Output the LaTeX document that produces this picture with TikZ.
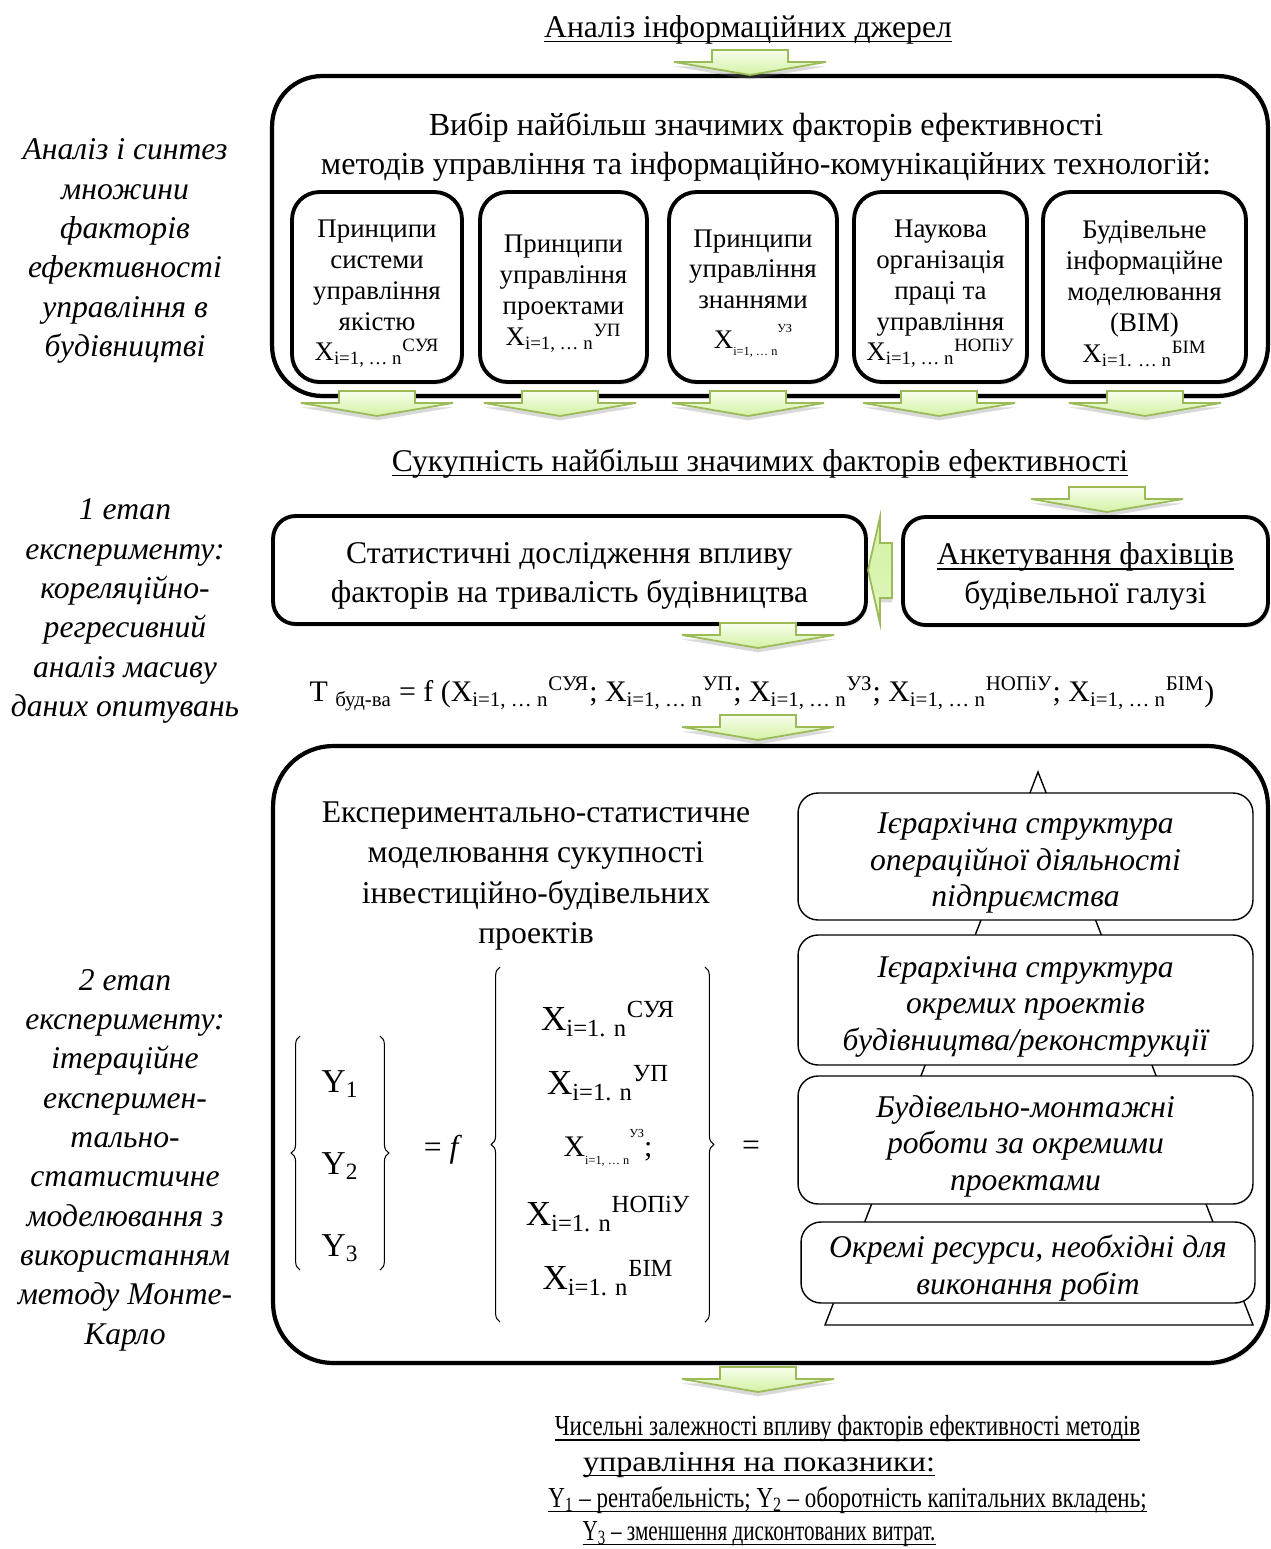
\documentclass[tikz,border=0pt]{standalone}
\usepackage{fontspec}
\setmainfont{Liberation Serif}
\usetikzlibrary{positioning, calc, decorations.pathreplacing, shadows}

\definecolor{arrline}{RGB}{155,187,89}
\definecolor{arrtop}{RGB}{247,253,235}
\definecolor{arrbot}{RGB}{212,242,165}

\newcommand{\bigsz}{\fontsize{18}{22.2}\selectfont}
\newcommand{\boxsz}{\fontsize{15.3}{17.6}\selectfont}
\newcommand{\levsz}{\fontsize{18}{20.8}\selectfont}
\newcommand{\notesz}{\fontsize{18}{22.4}\selectfont}
\newcommand{\ressz}{\fontsize{16.5}{20}\selectfont}
\newcommand{\Xs}[2]{X\textsubscript{#1}\textsuperscript{#2}}
\newcommand{\uln}[1]{\setbox0\hbox{#1}\rlap{\rule[-2.6pt]{\wd0}{0.7pt}}\box0}
\newcommand{\dn}[1][0pt]{\mbox{}\\[#1]}

% green block arrow pointing down: centre x, top y
\newcommand{\greendown}[2]{%
  \draw[garr] (#1-38,#2) -- (#1+38,#2) -- (#1+38,#2+12) -- (#1+76,#2+12)
    -- (#1,#2+25) -- (#1-76,#2+12) -- (#1-38,#2+12) -- cycle;}

\begin{document}
\begin{tikzpicture}[x=0.02cm, y=-0.02cm,
    frame/.style={draw, line width=2.4pt, rounded corners=1cm, fill=white,
      drop shadow={opacity=0.2, shadow xshift=1pt, shadow yshift=-1.5pt}},
    factor/.style={draw, line width=2.2pt, rounded corners=0.55cm, fill=white,
      align=center, font=\boxsz, inner sep=0pt, minimum height=3.8cm,
      drop shadow={opacity=0.2, shadow xshift=1pt, shadow yshift=-1.5pt}},
    stage/.style={draw, line width=2.2pt, rounded corners=0.45cm, fill=white,
      align=center, font=\bigsz, minimum height=2.16cm,
      drop shadow={opacity=0.2, shadow xshift=1pt, shadow yshift=-1.5pt}},
    level/.style={draw, line width=0.8pt, rounded corners=0.4cm, fill=white,
      align=center, font=\levsz\itshape, minimum width=9.1cm, inner sep=0pt},
    note/.style={align=center, font=\notesz\itshape},
    txt/.style={align=center, font=\bigsz},
    res/.style={align=center, font=\ressz},
    garr/.style={draw=arrline, line width=1pt, top color=arrtop, bottom color=arrbot,
      drop shadow={opacity=0.3, shadow xshift=0pt, shadow yshift=-2.5pt}},
    brace/.style={decorate, decoration={brace, amplitude=5pt}, line width=0.6pt}
  ]
  \useasboundingbox (0,0) rectangle (1271,1549);

  % Left column
  \node[note] (noteA) at (125,251) {Аналіз і синтез\\множини\\факторів\\ефективності\\управління в\\будівництві};
  \node[note] (noteB) at (125,611) {1 етап\\експерименту:\\кореляційно-\\регресивний\\аналіз масиву\\даних опитувань};
  \node[note] (noteC) at (125,1160) {2 етап\\експерименту:\\ітераційне\\експеримен-\\тально-\\статистичне\\моделювання з\\використанням\\методу Монте-\\Карло};

  % Sources
  \node[txt] (src) at (748,30) {\uln{Аналіз інформаційних джерел}};

  % First frame
  \node[frame, minimum width=19.92cm, minimum height=6.4cm] (sel) at (770,236) {};
  \node[txt, font=\fontsize{18.3}{22.2}\selectfont] (seltitle) at (766,147) {Вибір найбільш значимих факторів ефективності\\методів управління та інформаційно-комунікаційних технологій:};

  \node[factor, minimum width=3.4cm] (qms) at (377,287) {\dn Принципи\\системи\\управління\\якістю\\\Xs{i=1, … n}{СУЯ}};
  \node[factor, minimum width=3.34cm] (pm) at (563.5,287) {\dn Принципи\\управління\\проектами\\\Xs{i=1, … n}{УП}};
  \node[factor, minimum width=3.36cm] (km) at (753,287) {\dn Принципи\\управління\\знаннями\\[5pt]X\raisebox{-0.6ex}{\scriptsize i=1, … n}\raisebox{1.3ex}{\scriptsize УЗ}};
  \node[factor, minimum width=3.46cm] (not) at (940.5,287) {\dn Наукова\\організація\\праці та\\управління\\\Xs{i=1, … n}{НОПіУ}};
  \node[factor, minimum width=4.06cm] (bim) at (1144.5,287) {\dn Будівельне\\інформаційне\\моделювання\\(BIM)\\\Xs{i=1. … n}{БІМ}};

  % Arrows under the factors
  \greendown{750}{50}
  \foreach \cx in {377,560,748,939,1145}{\greendown{\cx}{391}}

  \node[txt] (set) at (760,464) {\uln{Сукупність найбільш значимих факторів ефективності}};
  \greendown{1107}{487}

  % Stage 1
  \node[stage, minimum width=11.86cm] (stat) at (569.5,570) {\dn[-3pt]Статистичні дослідження впливу\\факторів на тривалість будівництва};
  \node[stage, minimum width=7.3cm] (poll) at (1085.5,571) {\dn[-3pt]\uln{Анкетування фахівців}\\будівельної галузі};
  \draw[garr, top color=arrbot, bottom color=arrbot!70!arrtop] (868,570) -- (880,517) -- (880,543) -- (892,543)
    -- (892,598) -- (880,598) -- (880,623) -- cycle;

  \greendown{758}{623}
  \node[txt, font=\fontsize{17}{20}\selectfont] (eq) at (762,694) {T \textsubscript{буд-ва} = f (\Xs{i=1, … n}{СУЯ}; \Xs{i=1, … n}{УП}; \Xs{i=1, … n}{УЗ}; \Xs{i=1, … n}{НОПіУ}; \Xs{i=1, … n}{БІМ})};
  \greendown{758}{715}

  % Stage 2
  \node[frame, rounded corners=1.2cm, minimum width=19.9cm, minimum height=12.34cm] (mc) at (770.5,1054.5) {};
  \node[txt, font=\fontsize{18}{22.8}\selectfont] (mctitle) at (536,876) {Експериментально-статистичне\\моделювання сукупності\\інвестиційно-будівельних\\проектів};

  \node[txt, font=\fontsize{19}{46.6}\selectfont] (ycol) at (340,1166) {Y\textsubscript{1}\\Y\textsubscript{2}\\Y\textsubscript{3}};
  \draw[brace] (300,1270) -- (300,1036);
  \draw[brace] (380,1036) -- (380,1270);
  \node[txt] (eqf) at (443,1150) {= \textit{f}};

  \node[txt, font=\fontsize{20}{24}\selectfont] (x1) at (608,1019) {\Xs{i=1. n}{СУЯ}};
  \node[txt, font=\fontsize{20}{24}\selectfont] (x2) at (608,1083) {\Xs{i=1. n}{УП}};
  \node[txt, font=\fontsize{17}{20}\selectfont] (x3) at (608,1148) {X\raisebox{-0.6ex}{\scriptsize i=1, … n}\raisebox{1.4ex}{\scriptsize УЗ};};
  \node[txt, font=\fontsize{20}{24}\selectfont] (x4) at (608,1214) {\Xs{i=1. n}{НОПіУ}};
  \node[txt, font=\fontsize{20}{24}\selectfont] (x5) at (608,1278) {\Xs{i=1. n}{БІМ}};
  \draw[brace] (500,1322) -- (500,967);
  \draw[brace] (705,967) -- (705,1322);
  \node[txt] (eqr) at (751,1148) {=};

  % Pyramid
  \draw[line width=0.8pt, fill=white] (1038,772) -- (1253,1325) -- (825,1325) -- cycle;
  \node[level, minimum height=2.54cm] (lev1) at (1025.5,856.5) {\dn[-1.4pt]Ієрархічна структура\\операційної діяльності\\підприємства};
  \node[level, minimum height=2.6cm] (lev2) at (1025.5,1000) {\dn[-1.4pt]Ієрархічна структура\\окремих проектів\\будівництва/реконструкції};
  \node[level, minimum height=2.56cm] (lev3) at (1025.5,1140) {\dn[-1.4pt]Будівельно-монтажні\\роботи за окремими\\проектами};
  \node[level, minimum height=1.62cm, minimum width=9.08cm] (lev4) at (1028,1262.5) {\dn[-1.4pt]Окремі ресурси, необхідні для\\виконання робіт};

  \greendown{758}{1367}

  % Results
  \node[res] (res1) at (847.5,1429) {\uln{\scalebox{0.794}[1]{Чисельні залежності впливу факторів ефективності методів}}};
  \node[res] (res2) at (759,1465) {\uln{\scalebox{1.11}[1]{управління на показники:}}};
  \node[res] (res3) at (847.5,1500) {\uln{\scalebox{0.794}[1]{Y\textsubscript{1} – рентабельність; Y\textsubscript{2} – оборотність капітальних вкладень;}}};
  \node[res] (res4) at (759,1534) {\uln{\scalebox{0.73}[1]{Y\textsubscript{3} – зменшення дисконтованих витрат.}}};
\end{tikzpicture}
\end{document}
